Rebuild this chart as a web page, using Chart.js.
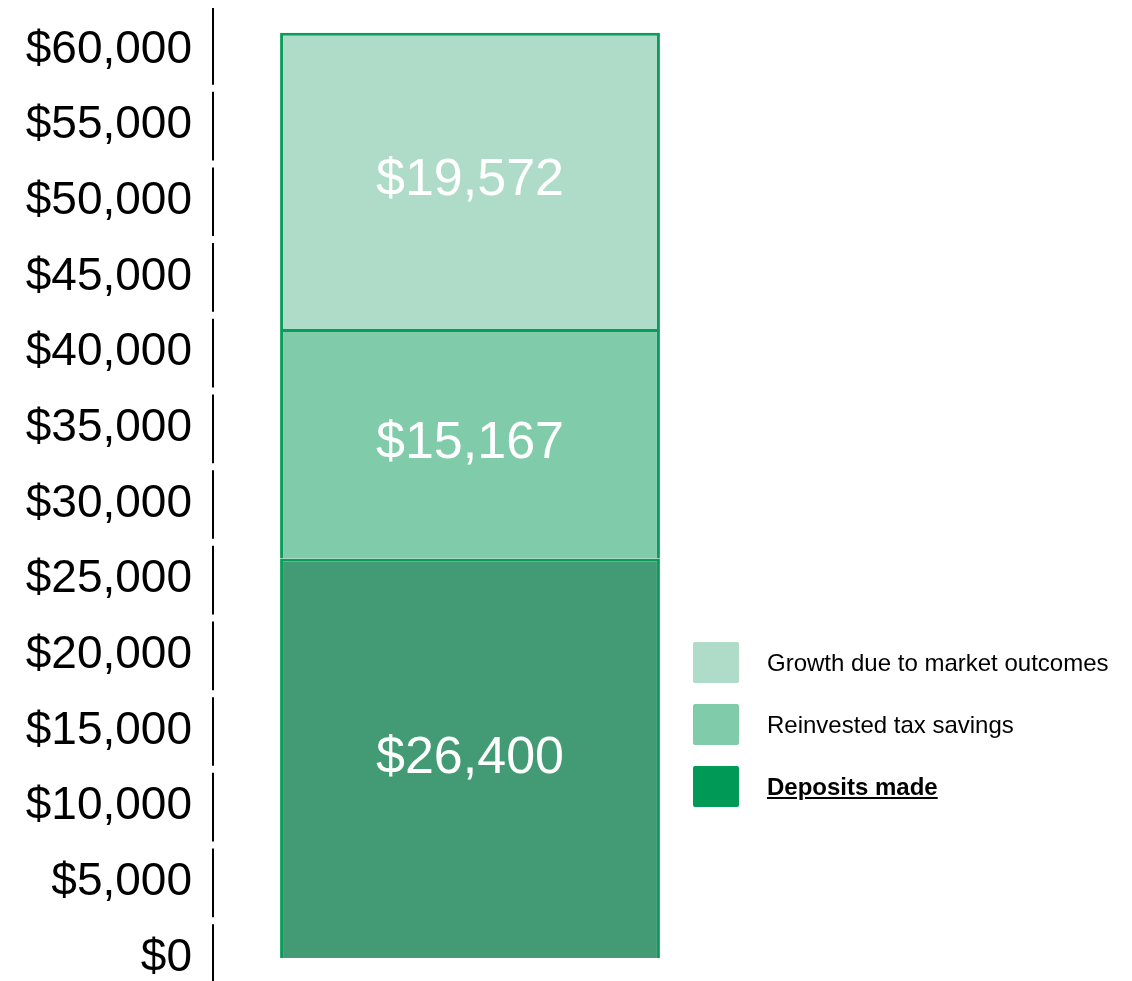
<!DOCTYPE html>
<html>
<head>
  <title>Savings breakdown</title>
  <script src="https://cdn.jsdelivr.net/npm/chart.js"></script>
  <style>
    body { margin: 0; background: #fff; font-family: "Liberation Sans", Arial, sans-serif; }
    #wrap { position: relative; width: 1132px; height: 981px; overflow: hidden; }
    #savingsChart { position: absolute; left: 0; top: 0; }
    #legend { position: absolute; left: 693px; top: 642px; }
    .item { display: flex; align-items: center; height: 41px; margin-bottom: 21px; }
    .box { width: 46px; height: 41px; border-radius: 2px; margin-right: 28px; }
    .item span { font-size: 24px; color: #000; white-space: nowrap; }
    .item.bold span { font-weight: bold; text-decoration: underline; }
  </style>
</head>
<body>
<div id="wrap">
  <canvas id="savingsChart" width="1132" height="981"></canvas>
  <div id="legend"></div>
</div>

<script>
  // данные графика
  const categories = ['Total'];
  const seriesNames = ['Deposits made', 'Reinvested tax savings', 'Growth due to market outcomes'];
  const deposits = [26400];
  const reinvested = [15167];
  const growth = [19572];
  const tickValues = [0, 5000, 10000, 15000, 20000, 25000, 30000, 35000, 40000, 45000, 50000, 55000, 60000];

  const barColors = ['#429b74', '#80cba9', '#aedcc8'];
  const legendColors = ['#009a56', '#80cba9', '#aedcc8'];
  const edgeColor = '#0a9c5a';

  const fmt = v => '$' + v.toLocaleString('en-US');

  // подписи внутри сегментов
  const barLabels = {
    id: 'barLabels',
    afterDatasetsDraw(chart) {
      const ctx = chart.ctx;
      ctx.save();
      ctx.fillStyle = '#fff';
      ctx.font = '52px "Liberation Sans", Arial, sans-serif';
      ctx.textAlign = 'center';
      ctx.textBaseline = 'middle';
      chart.data.datasets.forEach((ds, i) => {
        chart.getDatasetMeta(i).data.forEach((bar, j) => {
          const mid = (bar.y + bar.base) / 2;
          ctx.fillText(fmt(ds.data[j]), bar.x, mid);
        });
      });
      ctx.restore();
    }
  };

  // ось Y кусками между делениями
  const axisLine = {
    id: 'axisLine',
    afterDraw(chart) {
      const y = chart.scales.y;
      const x = chart.chartArea.left;
      const ctx = chart.ctx;
      const stops = tickValues.slice(0, -1).map(v => y.getPixelForValue(v + 2500)).sort((a, b) => a - b);
      let top = chart.chartArea.top + 8;
      ctx.save();
      ctx.strokeStyle = '#000';
      ctx.lineWidth = 2;
      stops.forEach(c => {
        ctx.beginPath();
        ctx.moveTo(x, top);
        ctx.lineTo(x, c - 3);
        ctx.stroke();
        top = c + 4;
      });
      ctx.beginPath();
      ctx.moveTo(x, top);
      ctx.lineTo(x, chart.chartArea.bottom);
      ctx.stroke();
      ctx.restore();
    }
  };

  const datasets = [deposits, reinvested, growth].map((d, i) => ({
    label: seriesNames[i],
    data: d,
    backgroundColor: barColors[i],
    borderColor: edgeColor,
    borderWidth: { top: 3, left: 3, right: 3, bottom: 0 },
    borderSkipped: false,
    categoryPercentage: 1,
    barPercentage: 0.739
  }));

  const chart = new Chart(document.getElementById('savingsChart'), {
    type: 'bar',
    data: { labels: categories, datasets },
    options: {
      responsive: false,
      animation: false,
      layout: { padding: { left: 0, right: 405, top: 0, bottom: 0 } },
      plugins: { legend: { display: false }, tooltip: { enabled: false } },
      scales: {
        x: { stacked: true, display: false },
        y: {
          stacked: true,
          min: -1520,
          max: 63300,
          border: { display: false },
          grid: { display: false, drawTicks: false },
          ticks: {
            padding: 21,
            color: '#000',
            font: { size: 46, family: '"Liberation Sans", Arial, sans-serif' },
            callback: v => fmt(v)
          },
          afterBuildTicks(scale) {
            scale.ticks = tickValues.map(v => ({ value: v }));
          },
          afterFit(scale) {
            scale.width = 213;
            scale.paddingTop = 0;
            scale.paddingBottom = 0;
          }
        }
      }
    },
    plugins: [barLabels, axisLine]
  });

  // легенда сверху вниз: рост, налог, взносы
  const legend = document.getElementById('legend');
  [2, 1, 0].forEach(i => {
    const row = document.createElement('div');
    row.className = 'item' + (i === 0 ? ' bold' : '');
    row.innerHTML = `<div class="box" style="background:${legendColors[i]}"></div><span>${seriesNames[i]}</span>`;
    legend.appendChild(row);
  });
</script>
</body>
</html>
